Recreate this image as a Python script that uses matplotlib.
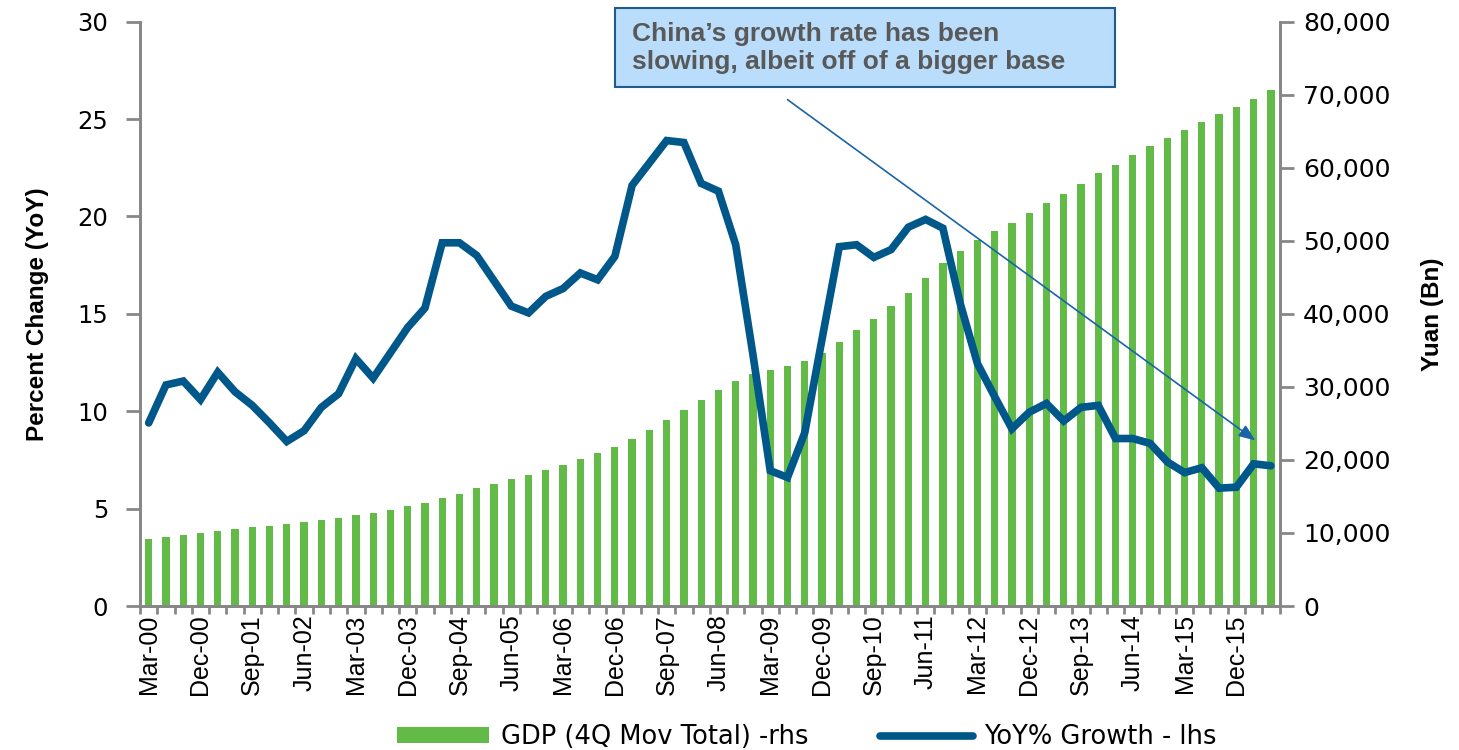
import matplotlib.pyplot as plt
from matplotlib.patches import Rectangle
from matplotlib.ticker import FuncFormatter, MultipleLocator

# quarterly series, Mar-00 .. Jun-16
quarters = [f"{m}-{y:02d}" for y in range(0, 17) for m in ("Mar", "Jun", "Sep", "Dec")][:66]

gdp_total = [
    9140, 9410, 9690, 9960, 10270, 10510, 10780, 11000, 11230, 11510,
    11780, 12100, 12430, 12740, 13190, 13660, 14150, 14800, 15380, 16120,
    16710, 17350, 17950, 18630, 19320, 20090, 20960, 21830, 22880, 24150,
    25430, 26800, 28220, 29590, 30820, 31780, 32330, 32880, 33560, 34700,
    36210, 37800, 39360, 41100, 42920, 44930, 46940, 48670, 50140, 51410,
    52510, 53790, 55160, 56440, 57810, 59270, 60450, 61780, 63010, 64150,
    65210, 66300, 67310, 68320, 69490, 70690,
]

yoy_growth = [
    9.4, 11.35, 11.55, 10.6, 12.0, 11.0, 10.3, 9.4, 8.45, 9.0,
    10.2, 10.9, 12.7, 11.7, 13.0, 14.3, 15.3, 18.65, 18.65, 18.0,
    16.7, 15.4, 15.05, 15.9, 16.3, 17.1, 16.75, 17.95, 21.6, 22.75,
    23.9, 23.8, 21.7, 21.3, 18.55, 12.9, 6.95, 6.6, 8.9, 13.7,
    18.45, 18.55, 17.9, 18.3, 19.45, 19.85, 19.4, 15.55, 12.45, 10.75,
    9.1, 9.95, 10.4, 9.5, 10.2, 10.3, 8.6, 8.6, 8.35, 7.4,
    6.85, 7.1, 6.05, 6.1, 7.3, 7.2,
]

tick_labels = quarters[::3]

green = "#62BB46"
blue = "#00578A"
grey = "#878787"
arial = ["Liberation Sans", "DejaVu Sans"]

fig = plt.figure(figsize=(14.59, 7.5), dpi=100)
ax = fig.add_axes([0.096, 0.192, 0.781, 0.779])
ax2 = ax.twinx()

x = list(range(len(quarters)))
bars = ax2.bar(x, gdp_total, width=0.42, color=green, label="GDP (4Q Mov Total) -rhs")
line, = ax.plot(x, yoy_growth, color=blue, lw=5.5, solid_joinstyle="miter",
                solid_capstyle="round", label="YoY% Growth - lhs")

# line in front of the bars
ax.set_zorder(ax2.get_zorder() + 1)
ax.patch.set_visible(False)

ax.set_xlim(-0.5, len(quarters) - 0.5)
ax.set_ylim(0, 30)
ax2.set_ylim(0, 80000)
ax.yaxis.set_major_locator(MultipleLocator(5))
ax2.yaxis.set_major_locator(MultipleLocator(10000))
ax2.yaxis.set_major_formatter(FuncFormatter(lambda v, p: f"{v:,.0f}"))

ax.set_xticks(x[::3])
ax.set_xticklabels(tick_labels, rotation=90, fontsize=18, family=arial)
ax.set_xticks([i - 0.5 for i in range(len(quarters) + 1)], minor=True)
ax.tick_params(axis="x", which="major", length=0, pad=6)
ax.tick_params(axis="x", which="minor", length=6, width=2, color=grey)

ax.tick_params(axis="y", length=10, width=2, color=grey, labelsize=17.5, pad=13)
ax2.tick_params(axis="y", length=10, width=2, color=grey, labelsize=18, pad=7)

for a in (ax, ax2):
    a.spines["top"].set_visible(False)
    for s in ("left", "right", "bottom"):
        a.spines[s].set_color(grey)
        a.spines[s].set_linewidth(2)

ax.set_ylabel("Percent Change (YoY)", fontsize=17.5, fontweight="bold", family=arial, labelpad=20)
ax2.set_ylabel("Yuan (Bn)", fontsize=17.5, fontweight="bold", family=arial, labelpad=22)

# call-out box with arrow
fig.patches.append(Rectangle((0.4215, 0.884), 0.3427, 0.1053, transform=fig.transFigure,
                             facecolor="#B9DDFB", edgecolor="#1F5C8C", lw=1.5))
fig.text(0.433, 0.936, "China\u2019s growth rate has been\nslowing, albeit off of a bigger base",
         fontsize=19, fontweight="bold", color="#595959", family=arial,
         va="center", ha="left", linespacing=1.2)
ax.annotate("", xy=(64.1, 8.5), xytext=(37.0, 26.0),
            arrowprops=dict(arrowstyle="-|>,head_length=1.0,head_width=0.4",
                            color="#1A64A8", lw=1.2, shrinkA=0, shrinkB=0),
            annotation_clip=False)

fig.legend([bars, line], ["GDP (4Q Mov Total) -rhs", "YoY% Growth - lhs"],
           loc="center", bbox_to_anchor=(0.553, 0.017), ncol=2, frameon=False,
           fontsize=18.5, handlelength=3.6, handleheight=0.6, columnspacing=2.8,
           handletextpad=0.45)

fig.savefig("out.png", dpi=100)
